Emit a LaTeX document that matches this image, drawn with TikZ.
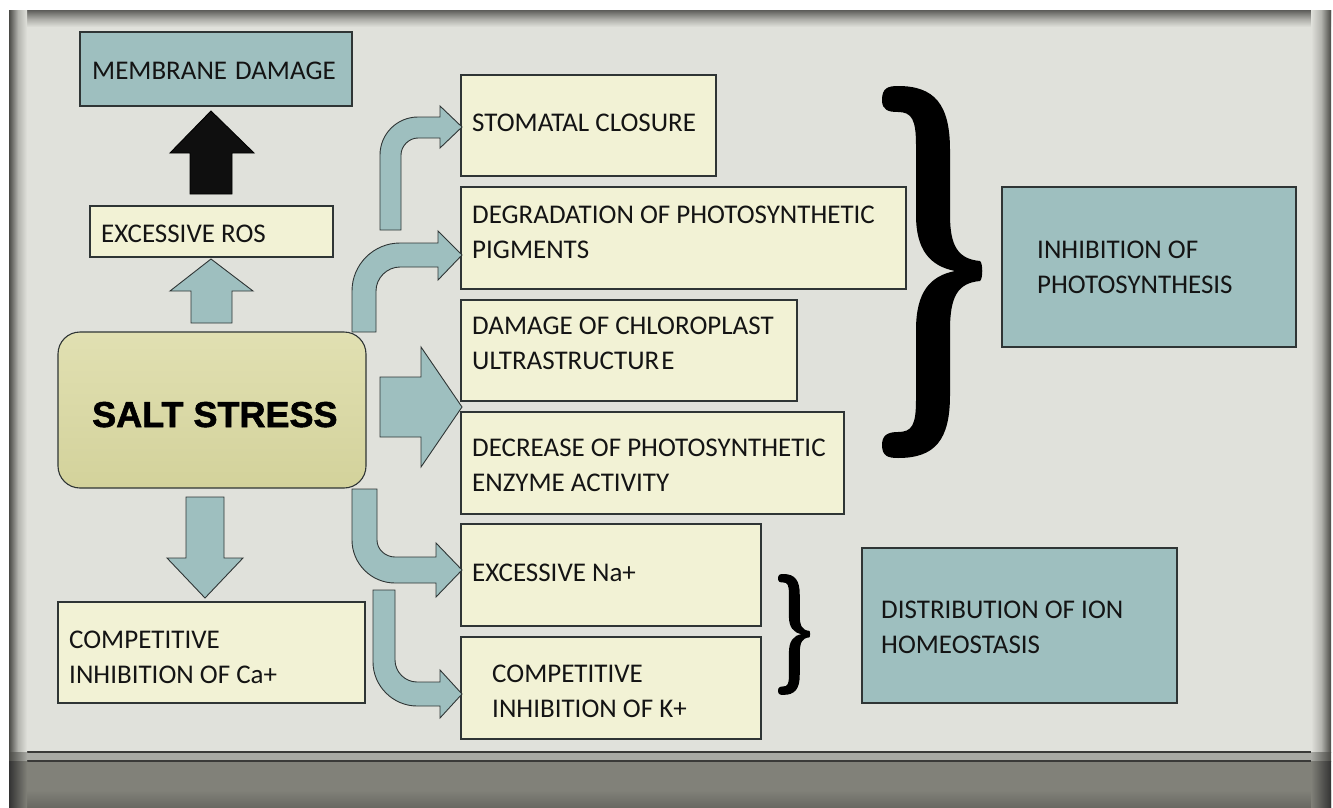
\documentclass[tikz,border=0pt]{standalone}
\usepackage{fontspec}
\setmainfont{Carlito}
\newfontfamily\saltfont[BoldFont={Liberation Sans Bold}, BoldFeatures={FakeBold=1.6}]{Liberation Sans}
\definecolor{bgc}{HTML}{E0E1DB}
\definecolor{tealc}{HTML}{9EBFBF}
\definecolor{yelc}{HTML}{F2F2D5}
\definecolor{linec}{HTML}{2F3535}
\definecolor{saltA}{HTML}{E1E0B2}
\definecolor{saltB}{HTML}{D3D29B}
\definecolor{bandA}{HTML}{A9AAA4}
\definecolor{bandB}{HTML}{818179}
\definecolor{shadowc}{HTML}{4A4A46}
\definecolor{bandline}{HTML}{3A3A38}
\tikzset{mybrace/.pic={
  \fill[black] (0,14) .. controls (0,2) and (6,0) .. (16,0)
    .. controls (53,0) and (68,19) .. (68,64) -- (68,129)
    .. controls (68,160) and (76,173) .. (98,175)
    .. controls (101,177) and (101,193) .. (98,195)
    .. controls (76,197) and (68,210) .. (68,244) -- (68,309)
    .. controls (68,354) and (53,372) .. (16,372)
    .. controls (6,372) and (0,370) .. (0,359)
    .. controls (0,349) and (6,346) .. (16,346)
    .. controls (30,346) and (34,339) .. (34,314) -- (34,244)
    .. controls (34,206) and (48,190) .. (73,185)
    .. controls (48,180) and (34,164) .. (34,129) -- (34,59)
    .. controls (34,34) and (30,26) .. (16,26)
    .. controls (6,26) and (0,24) .. (0,14) -- cycle;
}}
\begin{document}
\begin{tikzpicture}[x=1pt,y=-1pt,
 box/.style={draw=linec, line width=1.1pt, anchor=north west, inner sep=0pt, outer sep=0pt},
 ybox/.style={box, fill=yelc},
 tbox/.style={box, fill=tealc},
 lbl/.style={anchor=base west, inner sep=0pt, font=\fontsize{27}{35.5}\selectfont, text=black!92},
 blockarrow/.style={fill=tealc, draw=linec, line width=0.9pt, line join=miter},
]
\useasboundingbox (0,0) rectangle (1333,808);
% background and panel
\fill[white] (0,0) rectangle (1333,808);
\fill[bgc] (9,11) rectangle (1331,752);
\fill[bandA] (9,752) rectangle (1331,761);
\fill[bandB] (9,761) rectangle (1331,808);
\shade[top color=bandB, bottom color=bandB!80!black] (9,790) rectangle (1331,808);
\draw[bandline, line width=1.2pt] (9,752) -- (1331,752);
\draw[bandline, line width=1.2pt] (9,761) -- (1331,761);
% edge shadows
\shade[top color=shadowc!85, bottom color=bgc, middle color=bgc!65!shadowc] (9,11) rectangle (1331,27);
\shade[left color=shadowc, right color=bgc, middle color=bgc!70!shadowc] (9,11) rectangle (27,752);
\shade[left color=bgc, right color=shadowc, middle color=bgc!70!shadowc] (1311,11) rectangle (1331,752);
\shade[left color=shadowc, right color=bandA] (9,752) rectangle (27,761);
\shade[left color=bandA, right color=shadowc] (1311,752) rectangle (1331,761);
\shade[left color=black!80, right color=bandB] (9,761) rectangle (27,808);
\shade[left color=bandB, right color=black!80] (1311,761) rectangle (1331,808);

% boxes
\node[tbox, minimum width=272pt, minimum height=74pt] (mem) at (80,32) {};
\node[ybox, minimum width=243pt, minimum height=51pt] (ros) at (90,206) {};
\node[box, rounded corners=22pt, top color=saltA, bottom color=saltB, minimum width=308pt, minimum height=156pt] (salt) at (58,332) {};
\node[ybox, minimum width=307pt, minimum height=101pt] (ca) at (58,602) {};
\node[ybox, minimum width=255pt, minimum height=101pt] (stom) at (461,75) {};
\node[ybox, minimum width=445pt, minimum height=102pt] (degr) at (461,187) {};
\node[ybox, minimum width=336pt, minimum height=101pt] (chlo) at (461,300) {};
\node[ybox, minimum width=383pt, minimum height=102pt] (decr) at (461,412) {};
\node[ybox, minimum width=300pt, minimum height=102pt] (na) at (461,524) {};
\node[ybox, minimum width=300pt, minimum height=102pt] (kp) at (461,637) {};
\node[tbox, minimum width=294pt, minimum height=160pt] (inhib) at (1002,187) {};
\node[tbox, minimum width=315pt, minimum height=155pt] (ion) at (862,548) {};

% labels
\node[lbl] (tmem) at (92,79) {MEMBRANE\hspace{8pt}DAMAGE};
\node[lbl] (tros) at (101,242) {EXCESSIVE ROS};
\node[anchor=base west, inner sep=0pt, font=\saltfont\bfseries\fontsize{36}{40}\selectfont] (tsalt) at (92,427) {SALT STRESS};
\node[lbl] (tca) at (69,648) {\parbox[t]{290pt}{COMPETITIVE\\INHIBITION OF Ca+}};
\node[lbl] (tstom) at (472,131) {STOMATAL CLOSURE};
\node[lbl] (tdegr) at (472,223) {\parbox[t]{440pt}{DEGRADATION OF PHOTOSYNTHETIC\\PIGMENTS}};
\node[lbl] (tchlo) at (472,334) {\parbox[t]{330pt}{DAMAGE OF CHLOROPLAST\\ULTRASTRUCTUR\kern2pt E}};
\node[lbl] (tdecr) at (472,456) {\parbox[t]{380pt}{DECREASE OF PHOTOSYNTHETIC\\ENZYME ACTIVITY}};
\node[lbl] (tna) at (472,581) {EXCESSIVE Na+};
\node[lbl] (tkp) at (492,682) {\parbox[t]{260pt}{COMPETITIVE\\INHIBITION OF K+}};
\node[lbl] (tinhib) at (1037,258) {\parbox[t]{250pt}{INHIBITION OF\\PHOTOSYNTHESIS}};
\node[lbl] (tion) at (881,618) {\parbox[t]{290pt}{DISTRIBUTION OF ION\\HOMEOSTASIS}};

% straight block arrows
\filldraw[fill=black!94, draw=black, line width=0.9pt] (211,111) -- (254,153) -- (232,153) -- (232,194) -- (190,194) -- (190,153) -- (170,153) -- cycle;
\filldraw[blockarrow] (211,259) -- (253,291) -- (232,291) -- (232,323) -- (191,323) -- (191,291) -- (170,291) -- cycle;
\filldraw[blockarrow] (205,598) -- (243,558) -- (224,558) -- (224,497) -- (186,497) -- (186,558) -- (167,558) -- cycle;
\filldraw[blockarrow] (462,407) -- (421,347) -- (421,377) -- (380,377) -- (380,437) -- (421,437) -- (421,467) -- cycle;
% bent block arrows
\filldraw[blockarrow] (380,230) -- (380,155) .. controls (380,134) and (397,117) .. (418,117) -- (440,117) -- (440,106) -- (462,127) -- (440,148) -- (440,138) -- (418,138) .. controls (409,138) and (401,146) .. (401,155) -- (401,230) -- cycle;
\filldraw[blockarrow] (352,332) -- (352,291) .. controls (352,264.5) and (373.5,243) .. (400,243) -- (438,243) -- (438,231) -- (462,255) -- (438,280) -- (438,267) -- (400,267) .. controls (387,267) and (376,278) .. (376,291) -- (376,332) -- cycle;
\filldraw[blockarrow] (352,489) -- (377,489) -- (377,540) .. controls (377,549.5) and (385.5,557) .. (395,557) -- (436,557) -- (436,543) -- (462,570) -- (436,597) -- (436,583) -- (395,583) .. controls (371.3,583) and (352,563.7) .. (352,540) -- cycle;
\filldraw[blockarrow] (373,590) -- (395,590) -- (395,660) .. controls (395,672) and (405,682) .. (417,682) -- (440,682) -- (440,670) -- (462,694) -- (440,718) -- (440,706) -- (417,706) .. controls (393,706) and (373,686) .. (373,662) -- cycle;

% braces
\pic at (882,86) {mybrace};
\pic[xscale=0.32, yscale=0.325] at (778,574) {mybrace};
\end{tikzpicture}
\end{document}
